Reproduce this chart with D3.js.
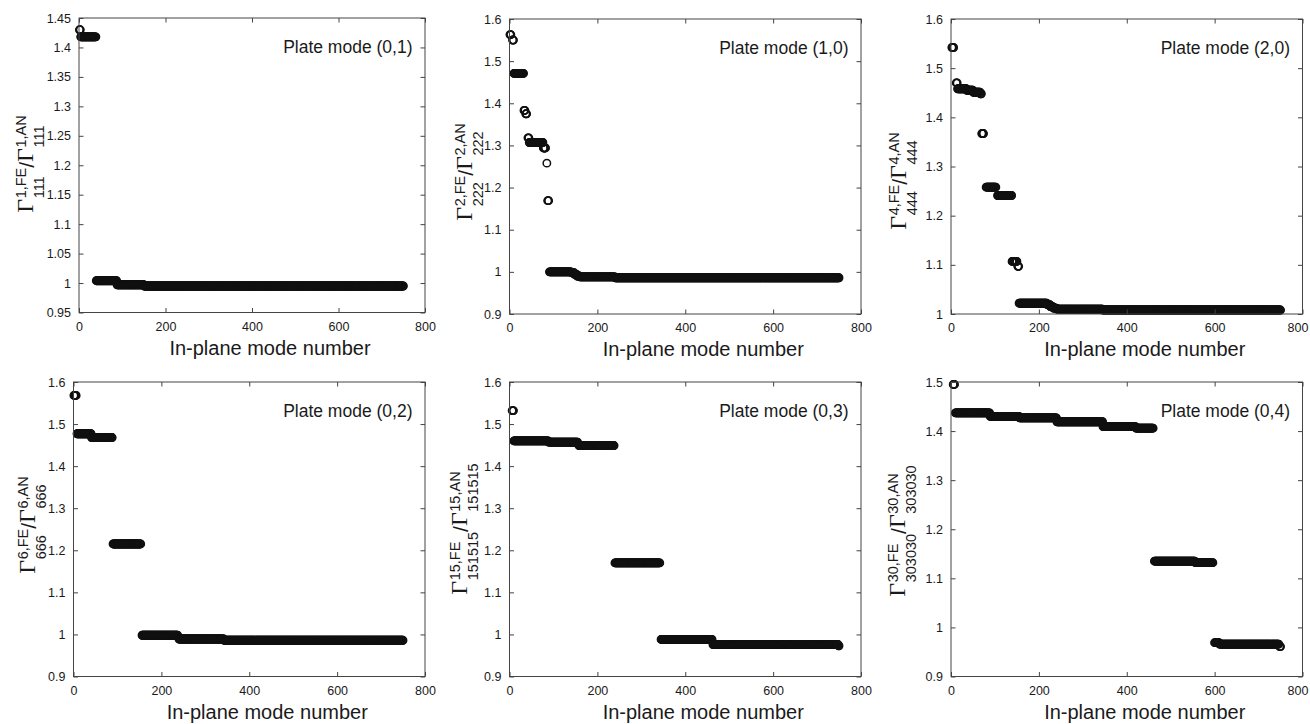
<!DOCTYPE html>
<html><head><meta charset="utf-8">
<script src="https://cdn.jsdelivr.net/npm/d3@7"></script>
<style>body{margin:0;background:#fff}svg{display:block}</style>
</head><body>
<svg id="chart" width="1310" height="724"></svg>
<script>
// ---------- data ----------
const xTickValues = [0, 200, 400, 600, 800];
const plateLabels = ["Plate mode (0,1)", "Plate mode (1,0)", "Plate mode (2,0)",
                     "Plate mode (0,2)", "Plate mode (0,3)", "Plate mode (0,4)"];
const gammaSup = ["1", "2", "4", "6", "15", "30"];
const gammaSub = ["111", "222", "444", "666", "151515", "303030"];
const xTitle = "In-plane mode number";

const yDomain01 = [0.95, 1.45], yDomain10 = [0.9, 1.6], yDomain20 = [1.0, 1.6];
const yDomain02 = [0.9, 1.6],  yDomain03 = [0.9, 1.6], yDomain04 = [0.9, 1.5];

const yTicks01 = [0.95, 1, 1.05, 1.1, 1.15, 1.2, 1.25, 1.3, 1.35, 1.4, 1.45];
const yTicks10 = [0.9, 1, 1.1, 1.2, 1.3, 1.4, 1.5, 1.6];
const yTicks20 = [1, 1.1, 1.2, 1.3, 1.4, 1.5, 1.6];
const yTicks02 = [0.9, 1, 1.1, 1.2, 1.3, 1.4, 1.5, 1.6];
const yTicks03 = [0.9, 1, 1.1, 1.2, 1.3, 1.4, 1.5, 1.6];
const yTicks04 = [0.9, 1, 1.1, 1.2, 1.3, 1.4, 1.5];

// runs of in-plane modes sharing (read) ratio value: [firstMode, lastMode, ratio]
const runs01 = [[1,3,1.430],[4,39,1.418],[40,87,1.004],[88,150,0.997],[151,750,0.995]];
const runs10 = [[1,3,1.563],[7,9,1.550],[10,32,1.471],[33,35,1.383],[37,39,1.375],
                [42,44,1.318],[45,76,1.307],[77,82,1.294],[85,85,1.258],[87,89,1.169],
                [91,140,1.000],[141,147,0.998],[148,153,0.994],[154,159,0.990],
                [160,240,0.988],[241,750,0.986]];
const runs20 = [[2,6,1.542],[12,14,1.470],[15,35,1.458],[36,50,1.455],[51,66,1.451],
                [67,69,1.448],[70,74,1.367],[80,102,1.258],[106,138,1.241],
                [139,150,1.107],[152,154,1.097],[155,218,1.022],[219,225,1.019],
                [226,232,1.015],[233,240,1.012],[241,345,1.010],[346,750,1.008]];
const runs02 = [[1,6,1.568],[8,40,1.477],[41,88,1.468],[90,153,1.215],
                [156,237,0.998],[240,342,0.989],[343,750,0.986]];
const runs03 = [[6,9,1.532],[10,88,1.460],[89,155,1.457],[158,238,1.449],
                [240,342,1.170],[345,461,0.988],[463,748,0.976],[749,750,0.973]];
const runs04 = [[5,8,1.495],[10,88,1.437],[89,155,1.430],[156,240,1.427],
                [241,345,1.419],[346,420,1.409],[421,460,1.406],[463,555,1.135],
                [556,596,1.132],[600,610,0.969],[611,746,0.966],[748,750,0.961]];

// ---------- layout ----------
const panels = [
  {l:79,    r:425,    t:18,  b:312.5, dom:yDomain01, ticks:yTicks01, runs:runs01, lx:33,  ly:164},
  {l:509.5, r:861,    t:19,  b:314,   dom:yDomain10, ticks:yTicks10, runs:runs10, lx:472, ly:172},
  {l:951,   r:1302.5, t:19,  b:314,   dom:yDomain20, ticks:yTicks20, runs:runs20, lx:906, ly:181},
  {l:73.5,  r:425,    t:382, b:676.5, dom:yDomain02, ticks:yTicks02, runs:runs02, lx:35,  ly:525},
  {l:509.5, r:861,    t:382, b:676.5, dom:yDomain03, ticks:yTicks03, runs:runs03, lx:467, ly:529},
  {l:951,   r:1302.5, t:382, b:676.5, dom:yDomain04, ticks:yTicks04, runs:runs04, lx:905, ly:531}
];

const SANS = "'Liberation Sans', Arial, Helvetica, sans-serif";
const SERIF = "'Liberation Serif', 'Times New Roman', serif";
const TXT = "#1a1a1a", AX = "#444";
const svg = d3.select("#chart");
const fmt = d3.format("~g");

panels.forEach((p, i) => {
  const x = d3.scaleLinear().domain([0, 800]).range([p.l, p.r]);
  const y = d3.scaleLinear().domain(p.dom).range([p.b, p.t]);
  const g = svg.append("g");

  // data points
  const pts = [];
  p.runs.forEach(([a, b, v]) => d3.range(a, b + 1).forEach(n => pts.push({n, v})));
  g.append("g").selectAll("circle").data(pts).join("circle")
    .attr("cx", d => x(d.n)).attr("cy", d => y(d.v)).attr("r", 3.7)
    .attr("fill", "none").attr("stroke", "#111").attr("stroke-width", 1.5);

  // axes (inward ticks on all sides)
  const styleAxis = sel => {
    sel.select(".domain").remove();
    sel.selectAll(".tick line").attr("stroke", AX).attr("stroke-width", 1);
    sel.selectAll(".tick text").attr("fill", TXT).style("font-family", SANS).style("font-size", "12.5px");
  };
  g.append("g").attr("transform", `translate(${p.l},0)`)
    .call(d3.axisLeft(y).tickValues(p.ticks).tickFormat(fmt).tickSize(-4.5).tickPadding(8))
    .call(styleAxis);
  g.append("g").attr("transform", `translate(${p.r},0)`)
    .call(d3.axisRight(y).tickValues(p.ticks).tickFormat("").tickSize(-4.5))
    .call(styleAxis);
  const xb = g.append("g").attr("transform", `translate(0,${p.b})`)
    .call(d3.axisBottom(x).tickValues(xTickValues).tickFormat(fmt).tickSize(-4.5).tickPadding(9.5))
    .call(styleAxis);
  // keep the last tick label inside the window for the right-most column
  if (p.r > 1290) xb.selectAll(".tick text").filter(d => d === 800).attr("dx", "-5");
  g.append("g").attr("transform", `translate(0,${p.t})`)
    .call(d3.axisTop(x).tickValues(xTickValues).tickFormat("").tickSize(-4.5))
    .call(styleAxis);
  g.append("rect").attr("x", p.l).attr("y", p.t).attr("width", p.r - p.l).attr("height", p.b - p.t)
    .attr("fill", "none").attr("stroke", AX).attr("stroke-width", 1);

  // plate-mode label
  g.append("text").attr("x", p.r - 12.5).attr("y", p.t + 35).attr("text-anchor", "end")
    .attr("fill", TXT).style("font-family", SANS).style("font-size", "17.5px").text(plateLabels[i]);

  // x title
  g.append("text").attr("x", (p.l + p.r) / 2 + 18).attr("y", p.b + 42).attr("text-anchor", "middle")
    .attr("fill", TXT).style("font-family", SANS).style("font-size", "20px").text(xTitle);

  // y title: Γ^{k,FE}_{sub} / Γ^{k,AN}_{sub}
  const lg = g.append("g").attr("transform", `translate(${p.lx},${p.ly}) rotate(-90)`);
  const inner = lg.append("g");
  let cx = 0;
  const add = (txt, dy, font, size) => inner.append("text").attr("x", cx).attr("y", dy)
      .attr("fill", TXT).style("font-family", font).style("font-size", size).text(txt);
  const gamma = () => { const t = add("Γ", 0, SERIF, "24px"); cx += t.node().getComputedTextLength() + 0.5; };
  const supsub = (a, b) => {
    const t1 = add(a, -7.5, SANS, "14.5px"), t2 = add(b, 11, SANS, "14.5px");
    cx += Math.max(t1.node().getComputedTextLength(), t2.node().getComputedTextLength());
  };
  gamma(); supsub(gammaSup[i] + ",FE", gammaSub[i]);
  const s = add("/", 1, SANS, "21px"); cx += s.node().getComputedTextLength();
  gamma(); supsub(gammaSup[i] + ",AN", gammaSub[i]);
  inner.attr("transform", `translate(${-cx / 2},0)`);
});
</script>
</body></html>
